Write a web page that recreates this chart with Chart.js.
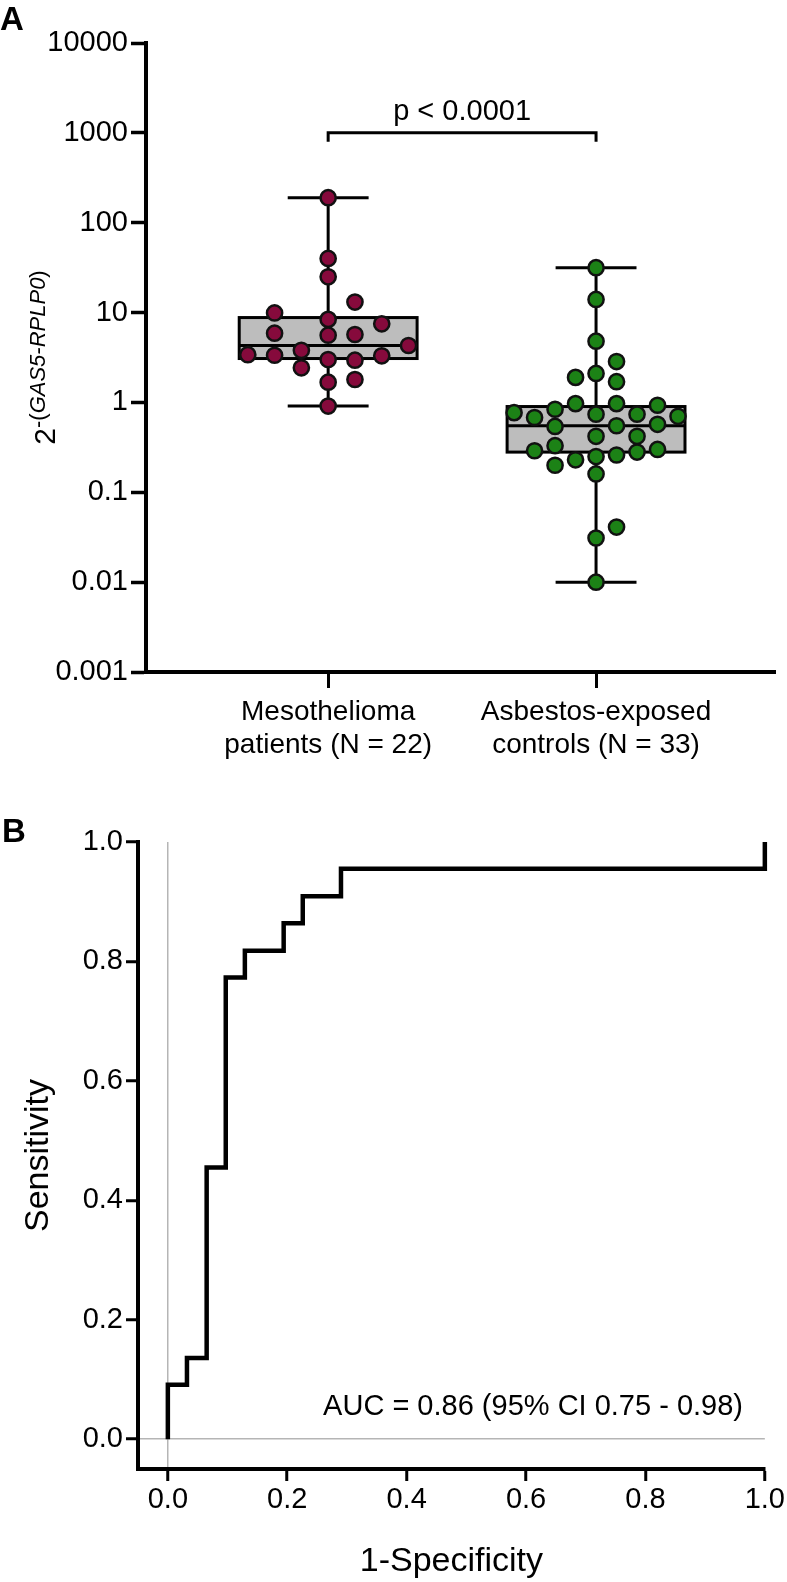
<!DOCTYPE html>
<html>
<head>
<meta charset="utf-8">
<script src="https://cdn.jsdelivr.net/npm/chart.js@4.4.0/dist/chart.umd.min.js"></script>
<style>
  html, body { margin: 0; padding: 0; background: #fff; }
  #wrap { position: relative; width: 787px; height: 1582px; }
  canvas { position: absolute; left: 0; }
  #boxChart { top: 0; }
  #rocChart { top: 790px; }
</style>
</head>
<body>
<div id="wrap">
  <canvas id="boxChart" width="787" height="790"></canvas>
  <canvas id="rocChart" width="787" height="792"></canvas>
</div>
<script>
// ---- PANEL A data ----
const groupLabels = [["Mesothelioma", "patients (N = 22)"], ["Asbestos-exposed", "controls (N = 33)"]];

const mesoValues = [190, 40, 25, 13.1, 9.9, 8.4, 7.5, 5.9, 5.6, 5.7, 4.3, 3.4, 3.35, 3.8, 3.0, 2.95, 3.3, 2.43, 1.68, 1.8, 0.91];
// swarm column of each dot (0 = centre)
const mesoSlots = [0, 0, 0, 1, -2, 0, 2, -2, 0, 1, 3, -3, -2, -1, 0, 1, 2, -1, 0, 1, 0];

const controlValues = [31.6, 14, 4.8, 2.85, 1.9, 2.1, 1.7, 0.97, 0.97, 0.93, 0.77, 0.84, 0.74, 0.74, 0.70, 0.68,
  0.54, 0.55, 0.57, 0.42, 0.42, 0.33, 0.29, 0.30, 0.28, 0.26, 0.25, 0.23, 0.20, 0.16, 0.041, 0.031, 0.01];
const controlSlots = [0, 0, 0, 1, -1, 0, 1, -1, 1, 3, -4, -2, 0, 2, 4, -3, -2, 1, 3, 0, 2, -2, -3, 3, 2, 1, 0, -1, -2, 0, 1, 0, 0];

const boxMin = [0.91, 0.01];
const boxQ1 = [3.08, 0.28];
const boxMedian = [4.3, 0.55];
const boxQ3 = [8.8, 0.9];
const boxMax = [190, 31.6];

const logTicks = [0.001, 0.01, 0.1, 1, 10, 100, 1000, 10000];
const pValueText = "p < 0.0001";
const bracketLevel = 1000;

// ---- PANEL B data ----
const rocFpr = [0, 0, 0.032, 0.065, 0.097, 0.129, 0.194, 0.226, 0.29, 1];
const rocTpr = [0, 0.091, 0.136, 0.455, 0.773, 0.818, 0.864, 0.909, 0.955, 1];
const rocTicks = [0, 0.2, 0.4, 0.6, 0.8, 1.0];
const aucText = "AUC = 0.86 (95% CI 0.75 - 0.98)";

const FONT = "'Liberation Sans', Arial, Helvetica, sans-serif";
const MESO_COLOR = "#860a3c";
const CTRL_COLOR = "#1c8216";
const MESO_STEP = 0.1;
const CTRL_STEP = 0.0765;
const BOX_HALF = 0.332;
const CAP_HALF = 0.151;

// box, whiskers, median (drawn under the dots)
const boxPlugin = {
  id: "boxes",
  beforeDatasetsDraw(chart) {
    const { ctx, scales: { x, y } } = chart;
    ctx.save();
    ctx.strokeStyle = "#000";
    ctx.lineWidth = 3;
    boxMedian.forEach((med, i) => {
      const cx = x.getPixelForValue(i);
      const hw = x.getPixelForValue(i + BOX_HALF) - cx;
      const cap = x.getPixelForValue(i + CAP_HALF) - cx;
      const yMin = y.getPixelForValue(boxMin[i]);
      const yQ1 = y.getPixelForValue(boxQ1[i]);
      const yMed = y.getPixelForValue(med);
      const yQ3 = y.getPixelForValue(boxQ3[i]);
      const yMax = y.getPixelForValue(boxMax[i]);

      ctx.beginPath();
      ctx.moveTo(cx, yMax); ctx.lineTo(cx, yQ3);
      ctx.moveTo(cx, yQ1); ctx.lineTo(cx, yMin);
      ctx.moveTo(cx - cap, yMax); ctx.lineTo(cx + cap, yMax);
      ctx.moveTo(cx - cap, yMin); ctx.lineTo(cx + cap, yMin);
      ctx.stroke();

      ctx.fillStyle = "#bdbdbd";
      ctx.fillRect(cx - hw, yQ3, 2 * hw, yQ1 - yQ3);
      ctx.strokeRect(cx - hw, yQ3, 2 * hw, yQ1 - yQ3);

      ctx.beginPath();
      ctx.moveTo(cx - hw, yMed); ctx.lineTo(cx + hw, yMed);
      ctx.stroke();
    });
    ctx.restore();
  }
};

// panel letter, p-value bracket and the 2^-(...) axis title
const panelAText = {
  id: "panelAText",
  afterDraw(chart) {
    const { ctx, scales: { x, y }, chartArea } = chart;
    ctx.save();
    ctx.fillStyle = "#000";
    ctx.font = "bold 33px " + FONT;
    ctx.textBaseline = "alphabetic";
    ctx.textAlign = "left";
    ctx.fillText("A", 0, 30);

    const x0 = x.getPixelForValue(0);
    const x1 = x.getPixelForValue(1);
    const by = y.getPixelForValue(bracketLevel);
    ctx.strokeStyle = "#000";
    ctx.lineWidth = 3;
    ctx.beginPath();
    ctx.moveTo(x0, by + 9); ctx.lineTo(x0, by); ctx.lineTo(x1, by); ctx.lineTo(x1, by + 9);
    ctx.stroke();
    ctx.font = "29px " + FONT;
    ctx.textAlign = "center";
    ctx.fillText(pValueText, (x0 + x1) / 2, by - 13);

    // rotated title with superscript
    const cy = (chartArea.top + chartArea.bottom) / 2;
    ctx.translate(42, cy);
    ctx.rotate(-Math.PI / 2);
    ctx.textAlign = "left";
    const runs = [
      ["30px " + FONT, "2", 13],
      ["22px " + FONT, "-(", 3],
      ["italic 22px " + FONT, "GAS5-RPLP0", 3],
      ["22px " + FONT, ")", 3]
    ];
    let total = 0;
    runs.forEach(r => { ctx.font = r[0]; total += ctx.measureText(r[1]).width; });
    let tx = -total / 2;
    runs.forEach(r => {
      ctx.font = r[0];
      ctx.fillText(r[1], tx, r[2]);
      tx += ctx.measureText(r[1]).width;
    });
    ctx.restore();
  }
};

const panelBText = {
  id: "panelBText",
  afterDraw(chart) {
    const { ctx } = chart;
    ctx.save();
    ctx.fillStyle = "#000";
    ctx.font = "bold 33px " + FONT;
    ctx.textAlign = "left";
    ctx.fillText("B", 2, 52);
    ctx.font = "29px " + FONT;
    ctx.textAlign = "right";
    ctx.fillText(aucText, 743, 625);
    ctx.restore();
  }
};

function dotStyle(color) {
  return {
    backgroundColor: color,
    borderColor: "#111",
    borderWidth: 2.5,
    pointRadius: 7.6,
    pointHoverRadius: 7.6
  };
}

new Chart(document.getElementById("boxChart"), {
  type: "scatter",
  data: {
    datasets: [
      Object.assign({ data: mesoValues.map((v, i) => ({ x: 0 + mesoSlots[i] * MESO_STEP, y: v })) }, dotStyle(MESO_COLOR)),
      Object.assign({ data: controlValues.map((v, i) => ({ x: 1 + controlSlots[i] * CTRL_STEP, y: v })) }, dotStyle(CTRL_COLOR))
    ]
  },
  options: {
    responsive: false,
    animation: false,
    events: [],
    layout: { padding: { left: 0, top: 43, right: 12, bottom: 0 } },
    plugins: { legend: { display: false }, tooltip: { enabled: false } },
    scales: {
      x: {
        type: "linear",
        min: -0.68,
        max: 1.668,
        afterFit: s => { s.height = 118; },
        afterBuildTicks: s => { s.ticks = groupLabels.map((g, i) => ({ value: i })); },
        grid: { drawOnChartArea: false, tickLength: 16, tickWidth: 3, tickColor: "#000" },
        border: { width: 4, color: "#000" },
        ticks: {
          callback: v => groupLabels[v],
          color: "#000",
          font: { family: FONT, size: 28 },
          padding: 7,
          maxRotation: 0,
          autoSkip: false
        }
      },
      y: {
        type: "logarithmic",
        min: 0.001,
        max: 10000,
        afterFit: s => { s.width = 146; },
        afterBuildTicks: s => { s.ticks = logTicks.map(v => ({ value: v })); },
        grid: { drawOnChartArea: false, tickLength: 15, tickWidth: 3.5, tickColor: "#000" },
        border: { width: 4, color: "#000" },
        ticks: {
          callback: v => String(v),
          color: "#000",
          font: { family: FONT, size: 29 },
          padding: 3
        }
      }
    }
  },
  plugins: [boxPlugin, panelAText]
});

const zeroLine = ctx => (ctx.tick && ctx.tick.value === 0 ? "#b5b5b5" : "rgba(0,0,0,0)");

new Chart(document.getElementById("rocChart"), {
  type: "line",
  data: {
    datasets: [{
      data: rocFpr.map((fx, i) => ({ x: fx, y: rocTpr[i] })),
      stepped: "before",
      borderColor: "#000",
      borderWidth: 4.5,
      borderJoinStyle: "miter",
      pointRadius: 0,
      fill: false,
      clip: 8
    }]
  },
  options: {
    responsive: false,
    animation: false,
    events: [],
    layout: { padding: { left: 0, top: 52, right: 19, bottom: 0 } },
    plugins: { legend: { display: false }, tooltip: { enabled: false } },
    scales: {
      x: {
        type: "linear",
        min: -0.05,
        max: 1.0,
        afterFit: s => { s.height = 113; },
        afterBuildTicks: s => { s.ticks = rocTicks.map(v => ({ value: v })); },
        grid: { color: zeroLine, lineWidth: 1.5, tickLength: 12, tickWidth: 3, tickColor: "#000" },
        border: { width: 4, color: "#000" },
        ticks: {
          callback: v => v.toFixed(1),
          color: "#000",
          font: { family: FONT, size: 29 },
          padding: 2,
          maxRotation: 0,
          autoSkip: false
        },
        title: {
          display: true,
          text: "1-Specificity",
          color: "#000",
          font: { family: FONT, size: 34 },
          padding: { top: 0, bottom: 0 }
        }
      },
      y: {
        type: "linear",
        min: -0.05,
        max: 1.0,
        afterFit: s => { s.width = 138; },
        afterBuildTicks: s => { s.ticks = rocTicks.map(v => ({ value: v })); },
        grid: { color: zeroLine, lineWidth: 1.5, tickLength: 12, tickWidth: 3, tickColor: "#000" },
        border: { width: 4, color: "#000" },
        ticks: {
          callback: v => v.toFixed(1),
          color: "#000",
          font: { family: FONT, size: 29 },
          padding: 3
        },
        title: {
          display: true,
          text: "Sensitivity",
          color: "#000",
          font: { family: FONT, size: 34 },
          padding: { top: 18, bottom: 0 }
        }
      }
    }
  },
  plugins: [panelBText]
});
</script>
</body>
</html>
